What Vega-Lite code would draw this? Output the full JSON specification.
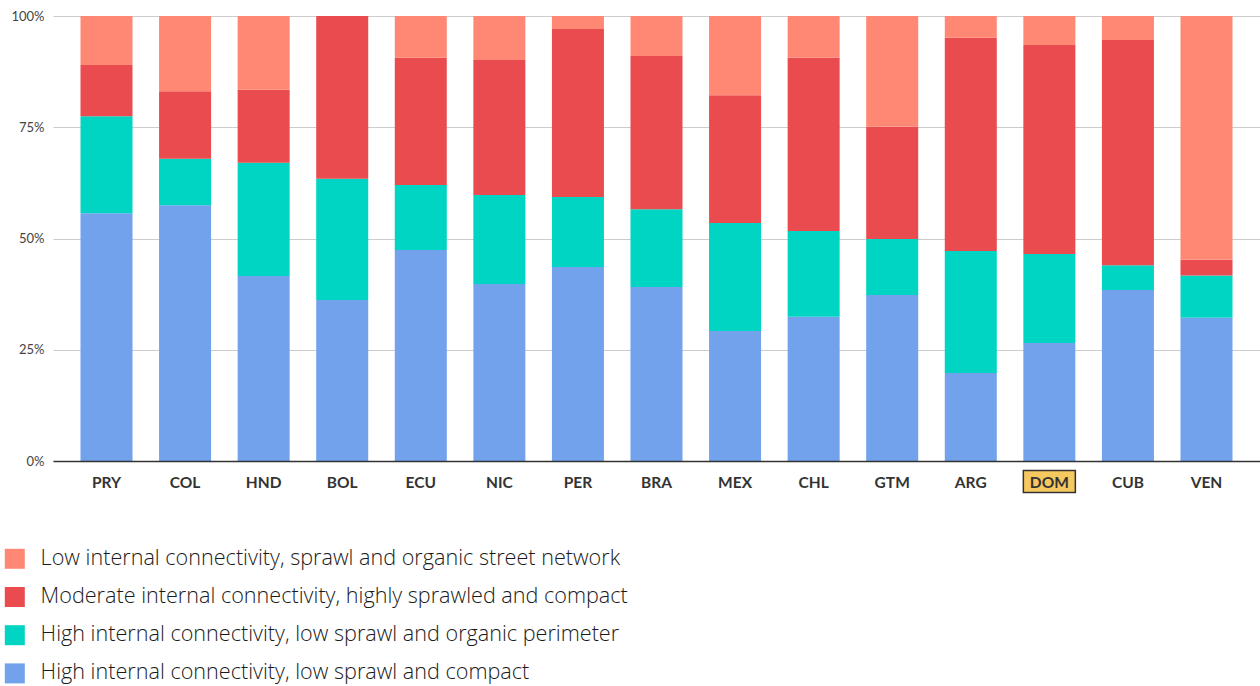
{
  "$schema": "https://vega.github.io/schema/vega-lite/v6.json",
  "autosize": {"type": "none"},
  "padding": {"left": 53, "top": 16, "right": 0, "bottom": 225},
  "width": 1207,
  "height": 445,
  "background": "white",
  "config": {
    "view": {"stroke": null},
    "font": "Lato"
  },
  "datasets": {
    "shares": [
      {"country": "PRY", "High internal connectivity, low sprawl and compact": 55.7, "High internal connectivity,  low sprawl and organic perimeter": 21.8, "Moderate internal connectivity, highly sprawled and compact": 11.5, "Low internal connectivity, sprawl and organic street network": 11.0},
      {"country": "COL", "High internal connectivity, low sprawl and compact": 57.5, "High internal connectivity,  low sprawl and organic perimeter": 10.4, "Moderate internal connectivity, highly sprawled and compact": 15.2, "Low internal connectivity, sprawl and organic street network": 16.9},
      {"country": "HND", "High internal connectivity, low sprawl and compact": 41.6, "High internal connectivity,  low sprawl and organic perimeter": 25.4, "Moderate internal connectivity, highly sprawled and compact": 16.4, "Low internal connectivity, sprawl and organic street network": 16.6},
      {"country": "BOL", "High internal connectivity, low sprawl and compact": 36.2, "High internal connectivity,  low sprawl and organic perimeter": 27.2, "Moderate internal connectivity, highly sprawled and compact": 36.6, "Low internal connectivity, sprawl and organic street network": 0.0},
      {"country": "ECU", "High internal connectivity, low sprawl and compact": 47.4, "High internal connectivity,  low sprawl and organic perimeter": 14.6, "Moderate internal connectivity, highly sprawled and compact": 28.6, "Low internal connectivity, sprawl and organic street network": 9.4},
      {"country": "NIC", "High internal connectivity, low sprawl and compact": 39.8, "High internal connectivity,  low sprawl and organic perimeter": 20.0, "Moderate internal connectivity, highly sprawled and compact": 30.3, "Low internal connectivity, sprawl and organic street network": 9.9},
      {"country": "PER", "High internal connectivity, low sprawl and compact": 43.6, "High internal connectivity,  low sprawl and organic perimeter": 15.7, "Moderate internal connectivity, highly sprawled and compact": 37.8, "Low internal connectivity, sprawl and organic street network": 2.9},
      {"country": "BRA", "High internal connectivity, low sprawl and compact": 39.1, "High internal connectivity,  low sprawl and organic perimeter": 17.5, "Moderate internal connectivity, highly sprawled and compact": 34.4, "Low internal connectivity, sprawl and organic street network": 9.0},
      {"country": "MEX", "High internal connectivity, low sprawl and compact": 29.2, "High internal connectivity,  low sprawl and organic perimeter": 24.3, "Moderate internal connectivity, highly sprawled and compact": 28.7, "Low internal connectivity, sprawl and organic street network": 17.8},
      {"country": "CHL", "High internal connectivity, low sprawl and compact": 32.4, "High internal connectivity,  low sprawl and organic perimeter": 19.3, "Moderate internal connectivity, highly sprawled and compact": 38.9, "Low internal connectivity, sprawl and organic street network": 9.4},
      {"country": "GTM", "High internal connectivity, low sprawl and compact": 37.3, "High internal connectivity,  low sprawl and organic perimeter": 12.6, "Moderate internal connectivity, highly sprawled and compact": 25.2, "Low internal connectivity, sprawl and organic street network": 24.9},
      {"country": "ARG", "High internal connectivity, low sprawl and compact": 19.8, "High internal connectivity,  low sprawl and organic perimeter": 27.4, "Moderate internal connectivity, highly sprawled and compact": 47.9, "Low internal connectivity, sprawl and organic street network": 4.9},
      {"country": "DOM", "High internal connectivity, low sprawl and compact": 26.5, "High internal connectivity,  low sprawl and organic perimeter": 20.0, "Moderate internal connectivity, highly sprawled and compact": 47.0, "Low internal connectivity, sprawl and organic street network": 6.5},
      {"country": "CUB", "High internal connectivity, low sprawl and compact": 38.4, "High internal connectivity,  low sprawl and organic perimeter": 5.6, "Moderate internal connectivity, highly sprawled and compact": 50.6, "Low internal connectivity, sprawl and organic street network": 5.4},
      {"country": "VEN", "High internal connectivity, low sprawl and compact": 32.2, "High internal connectivity,  low sprawl and organic perimeter": 9.5, "Moderate internal connectivity, highly sprawled and compact": 3.5, "Low internal connectivity, sprawl and organic street network": 54.8}
    ],
    "categories": [
      {"category": "High internal connectivity, low sprawl and compact", "rank": 1},
      {"category": "High internal connectivity,  low sprawl and organic perimeter", "rank": 2},
      {"category": "Moderate internal connectivity, highly sprawled and compact", "rank": 3},
      {"category": "Low internal connectivity, sprawl and organic street network", "rank": 4}
    ],
    "highlight": [{"country": "DOM"}]
  },
  "layer": [
    {
      "data": {"name": "shares"},
      "transform": [
        {"fold": [
          "High internal connectivity, low sprawl and compact",
          "High internal connectivity,  low sprawl and organic perimeter",
          "Moderate internal connectivity, highly sprawled and compact",
          "Low internal connectivity, sprawl and organic street network"
        ], "as": ["category", "share"]},
        {"lookup": "category", "from": {"data": {"name": "categories"}, "key": "category", "fields": ["rank"]}}
      ],
      "mark": {"type": "bar"},
      "encoding": {
        "x": {
          "field": "country", "type": "nominal", "sort": null,
          "scale": {"paddingInner": 0.338, "paddingOuter": 0.35},
          "axis": {
            "title": null, "labelAngle": 0, "ticks": false,
            "domainColor": "#333333", "domainWidth": 1.5,
            "labelFont": "Lato", "labelFontSize": 15.5, "labelFontWeight": "bold",
            "labelColor": "#333333", "labelPadding": 14, "zindex": 1
          }
        },
        "y": {
          "field": "share", "type": "quantitative", "stack": "normalize",
          "scale": {"domain": [0, 1]},
          "axis": {
            "title": null, "format": ".0%", "values": [0, 0.25, 0.5, 0.75, 1],
            "domain": false, "ticks": false, "gridColor": "#cccccc", "gridWidth": 1,
            "labelFont": "Lato", "labelFontSize": 13, "labelColor": "#444444",
            "labelPadding": 9
          }
        },
        "order": {"field": "rank", "type": "quantitative", "sort": "ascending"},
        "color": {
          "field": "category", "type": "nominal",
          "scale": {
            "domain": [
              "Low internal connectivity, sprawl and organic street network",
              "Moderate internal connectivity, highly sprawled and compact",
              "High internal connectivity,  low sprawl and organic perimeter",
              "High internal connectivity, low sprawl and compact"
            ],
            "range": ["#FF8875", "#E94B4E", "#00D4C2", "#72A2EC"]
          },
          "legend": {
            "title": null, "orient": "none", "direction": "vertical",
            "legendX": -49, "legendY": 532, "padding": 0,
            "symbolType": "square", "symbolSize": 400,
            "symbolStrokeWidth": 0, "symbolOpacity": 1,
            "labelFont": "Open Sans", "labelFontSize": 21.6, "labelFontWeight": 300, "labelColor": "#1a1a1a",
            "labelOffset": 15, "rowPadding": 15.2, "labelLimit": 1000
          }
        }
      }
    },
    {
      "data": {"name": "highlight"},
      "mark": {
        "type": "point", "filled": true, "shape": "M-1,-0.42H1V0.42H-1Z",
        "size": 2704, "fill": "#F5C860", "stroke": "#333333", "strokeWidth": 1.5,
        "opacity": 1, "yOffset": 20.5
      },
      "encoding": {
        "x": {"field": "country", "type": "nominal", "sort": null},
        "y": {"datum": 0, "type": "quantitative"}
      }
    }
  ]
}
